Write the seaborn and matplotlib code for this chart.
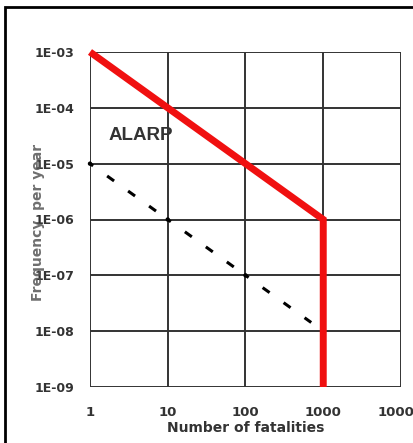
import numpy as np
import pandas as pd
import seaborn as sns
import matplotlib.pyplot as plt
from matplotlib.patches import Rectangle

# criterion lines (F-N curve)
limit_n = [1, 1000, 1000]
limit_f = [1e-3, 1e-6, 1e-9]
# lower ALARP boundary, drawn segment by segment like the Excel original
alarp_n = [1, 10, 10, 100, 100, 700]
alarp_f = [1e-5, 1e-6, 1e-6, 1e-7, 1e-7, 1.43e-8]
alarp_seg = [0, 0, 1, 1, 2, 2]
dot_n = [1, 10, 100]
dot_f = [1e-5, 1e-6, 1e-7]

x_ticks = [1, 10, 100, 1000, 10000]
x_labels = ["1", "10", "100", "1000", "10000"]
y_ticks = [1e-3, 1e-4, 1e-5, 1e-6, 1e-7, 1e-8, 1e-9]
y_labels = ["1E-03", "1E-04", "1E-05", "1E-06", "1E-07", "1E-08", "1E-09"]

sns.set_style("white")
plt.rcParams["font.family"] = ["DejaVu Sans"]

W, H = 414, 443
fig = plt.figure(figsize=(W / 100, H / 100), dpi=100)
ax = fig.add_axes([90 / W, 1 - 387 / H, (401 - 90) / W, (387 - 52) / H])

grid_c = "#333333"
ax.set_xscale("log")
ax.set_yscale("log")
ax.set_xlim(1, 10000)
ax.set_ylim(1e-9, 1e-3)

for v in x_ticks:
    ax.axvline(v, color=grid_c, lw=1.4, zorder=1)
for v in y_ticks:
    ax.axhline(v, color=grid_c, lw=1.4, zorder=1)
for s in ax.spines.values():
    s.set_visible(False)

n_before = len(ax.lines)
df_a = pd.DataFrame({"n": alarp_n, "f": alarp_f, "seg": alarp_seg})
sns.lineplot(data=df_a, x="n", y="f", units="seg", ax=ax, color="black",
             lw=2.2, sort=False, estimator=None, zorder=3)
for ln in ax.lines[n_before:]:
    ln.set_linestyle((-6.9, (2.8, 5.65)))
sns.scatterplot(x=dot_n, y=dot_f, ax=ax, color="black", s=10,
                edgecolor="none", zorder=4, clip_on=False)

# upper (intolerable) limit
df_l = pd.DataFrame({"n": limit_n, "f": limit_f})
sns.lineplot(data=df_l, x="n", y="f", ax=ax, color="#f01010", lw=5,
             sort=False, estimator=None, zorder=5)
ln = ax.lines[-1]
ln.set_clip_on(False)
ln.set_solid_joinstyle("miter")
ln.set_solid_capstyle("butt")

ax.set_xticks(x_ticks)
ax.set_xticklabels(x_labels)
ax.set_yticks(y_ticks)
ax.set_yticklabels(y_labels)
ax.minorticks_off()
ax.tick_params(axis="y", direction="out", length=7, width=1.4, color=grid_c,
               labelsize=9, labelcolor="#333333", pad=4)
ax.tick_params(axis="x", direction="out", length=5, width=1.4, color=grid_c,
               labelsize=9.5, labelcolor="#333333", pad=9)
for t in ax.get_xticklabels() + ax.get_yticklabels():
    t.set_fontweight("bold")

ax.set_xlabel("Number of fatalities", fontsize=10, fontweight="bold",
              color="#333333", labelpad=1)
ax.set_ylabel("")
fig.text(38 / W, 1 - 222 / H, "Frequency  per year", rotation=90,
         ha="center", va="center", fontsize=10, color="#555555",
         fontweight="bold", alpha=0.85)

ax.text(1.75, 3.2e-5, "ALARP", fontsize=13.5, fontweight="bold",
        color="#333333", family="Liberation Sans", va="center")

# outer frame
fig.patches.append(Rectangle((5 / W, -0.1), 1.2, (1 - 7 / H) + 0.1,
                             transform=fig.transFigure, fill=False,
                             edgecolor="black", lw=2))

fig.savefig("out.png", dpi=100)
